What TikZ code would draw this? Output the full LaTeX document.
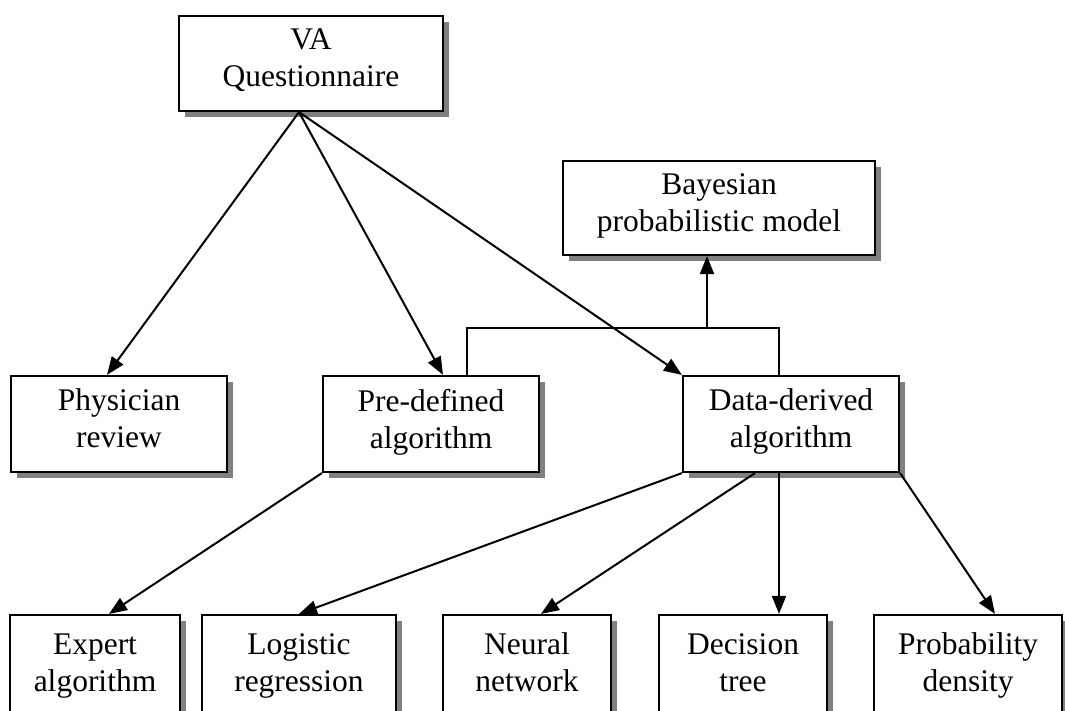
\documentclass[tikz,border=0pt]{standalone}
\usepackage{fontspec}
\setmainfont{Liberation Serif}
\usetikzlibrary{positioning, calc, shapes, arrows.meta, shadows}
\tikzstyle{Box} = [
draw,
line width=2.2pt,
fill=white,
align=center,
inner sep=0pt,
minimum height=96pt,
font=\fontsize{31.5}{37}\selectfont,
execute at begin node=\rule{0pt}{34pt},
execute at end node=\strut,
drop shadow={shadow xshift=6pt, shadow yshift=-6pt, fill=black!50, opacity=1}]
\tikzstyle{Arrow} = [
line width=2pt,
-{Triangle[length=18pt, width=14pt]}]
\tikzstyle{Line} = [line width=2pt]

\begin{document}
\begin{tikzpicture}[x=1pt, y=1pt]
    \useasboundingbox (0,0) rectangle (1065,711);
    \node [Box, minimum width=264pt, minimum height=95pt] (1) at (311,647.5) {VA\\Questionnaire};
    \node [Box, minimum width=312pt, minimum height=94pt] (2) at (719,503) {Bayesian\\probabilistic model};
    \node [Box, minimum width=216pt] (3) at (119,287) {Physician\\review};
    \node [Box, minimum width=216pt] (4) at (431,287) {Pre-defined\\algorithm};
    \node [Box, minimum width=216pt] (5) at (791,287) {Data-derived\\algorithm};
    \node [Box, minimum width=170pt, minimum height=106pt] (6) at (95,43) {Expert\\algorithm};
    \node [Box, minimum width=194pt, minimum height=106pt] (7) at (299,43) {Logistic\\regression};
    \node [Box, minimum width=168pt, minimum height=106pt] (8) at (527,43) {Neural\\network};
    \node [Box, minimum width=168pt, minimum height=106pt] (9) at (743,43) {Decision\\tree};
    \node [Box, minimum width=188pt, minimum height=106pt] (10) at (968,43) {Probability\\density};
    \coordinate (join) at (707,383);

    \draw[Arrow] ([xshift=-12pt]1.south) to ([xshift=-12pt]3.north);
    \draw[Arrow] ([xshift=-12pt]1.south) to ([xshift=12pt]4.north);
    \draw[Arrow] ([xshift=-12pt]1.south) to (5.north west);
    \draw[Line] ([xshift=36pt]4.north) |- (join) -| ([xshift=-12pt]5.north);
    \draw[Arrow] (join) to ([xshift=-12pt]2.south);
    \draw[Arrow] (4.south west) to ([xshift=14pt]6.north);
    \draw[Arrow] (5.south west) to (7.north);
    \draw[Arrow] ([xshift=-36pt]5.south) to ([xshift=14pt]8.north);
    \draw[Arrow] ([xshift=-12pt]5.south) to ([xshift=36pt]9.north);
    \draw[Arrow] (5.south east) to ([xshift=27pt]10.north);
\end{tikzpicture}
\end{document}
